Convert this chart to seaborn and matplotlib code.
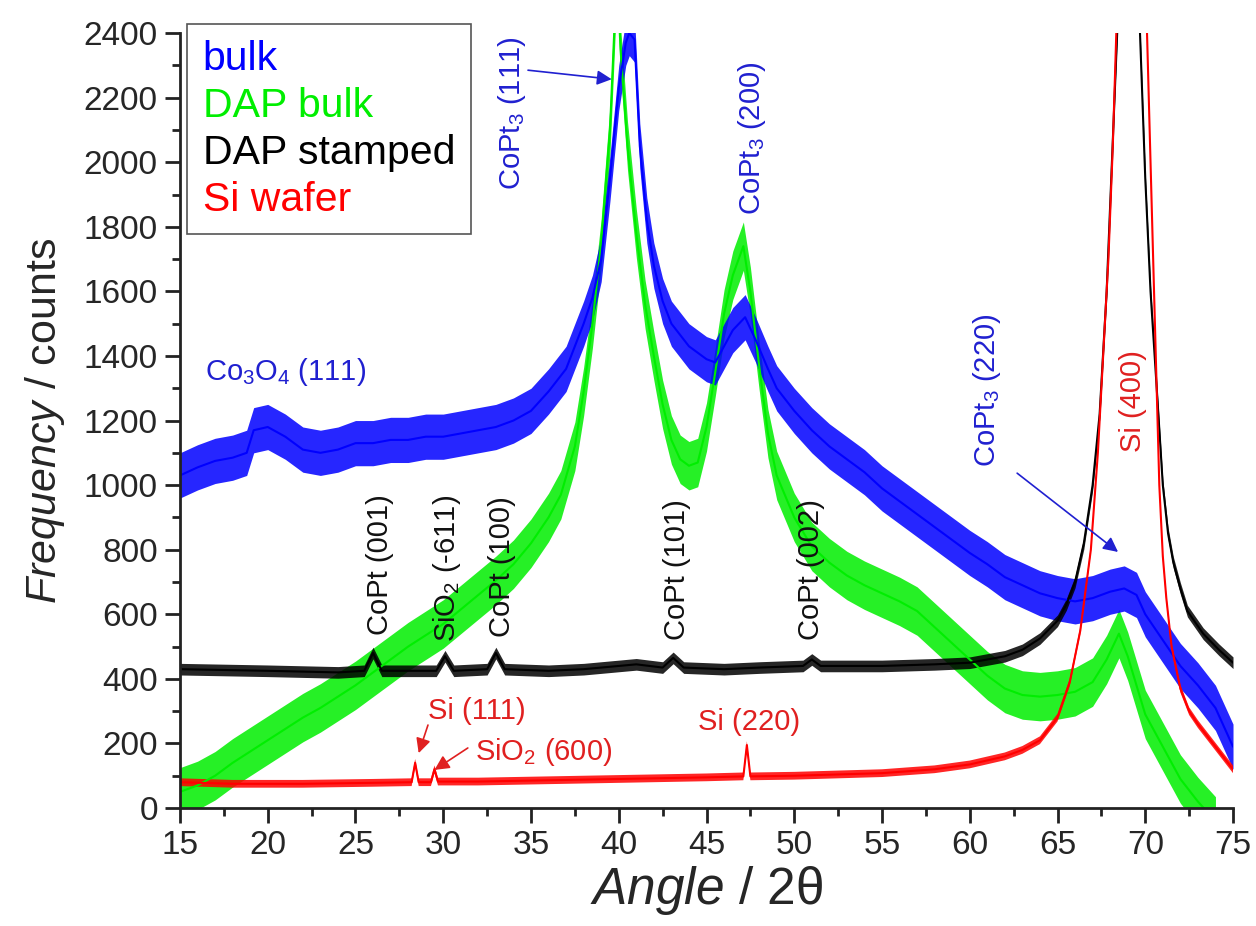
import numpy as np
import seaborn as sns
import matplotlib.pyplot as plt
from matplotlib.ticker import MultipleLocator

sns.set_theme(style="ticks")
plt.rcParams['font.family'] = ['Liberation Sans', 'DejaVu Sans']
plt.rcParams['mathtext.fontset'] = 'custom'
plt.rcParams['mathtext.rm'] = 'Liberation Sans'
plt.rcParams['mathtext.it'] = 'Liberation Sans:italic'

# bulk (blue)
bulk_angle = [15.0, 16.0, 17.0, 18.0, 18.8, 19.2, 20.0, 21.0, 22.0, 23.0, 24.0, 25.0, 26.0,
              27.0, 28.0, 29.0, 30.0, 31.0, 32.0, 33.0, 34.0, 35.0, 36.0, 37.0, 38.0, 38.5,
              39.0, 39.5, 40.0, 40.4, 40.6, 40.9, 41.2, 41.6, 42.0, 42.5, 43.0, 44.0, 45.0,
              45.5, 46.0, 46.5, 47.2, 47.8, 48.5, 49.0, 50.0, 51.0, 52.0, 53.0, 54.0, 55.0,
              56.0, 57.0, 58.0, 59.0, 60.0, 61.0, 62.0, 63.0, 64.0, 65.0, 66.0, 67.0, 68.0,
              68.8, 69.5, 70.0, 71.0, 72.0, 73.0, 74.0, 75.0]
bulk_counts = [1030, 1055, 1075, 1085, 1100, 1170, 1180, 1150, 1110, 1100, 1110, 1130, 1130,
               1140, 1140, 1150, 1150, 1160, 1170, 1180, 1200, 1230, 1290, 1360, 1500, 1580,
               1700, 1950, 2230, 2370, 2400, 2380, 2050, 1820, 1680, 1570, 1500, 1430, 1390,
               1380, 1430, 1480, 1520, 1450, 1360, 1300, 1230, 1170, 1120, 1080, 1040, 990,
               950, 910, 870, 830, 790, 755, 715, 690, 665, 650, 640, 650, 670,
               680, 660, 600, 520, 440, 380, 310, 190]

# DAP bulk (green)
dap_angle = [15.0, 16.0, 17.0, 18.0, 19.0, 20.0, 21.0, 22.0, 23.0, 24.0, 25.0, 26.0, 27.0,
             28.0, 29.0, 30.0, 31.0, 32.0, 33.0, 34.0, 35.0, 36.0, 36.7, 37.5, 38.0, 38.5,
             39.0, 39.5, 39.9, 40.1, 40.5, 41.0, 41.5, 42.0, 42.5, 43.0, 43.5, 44.0, 44.5,
             45.0, 45.5, 46.0, 46.5, 47.1, 47.5, 48.0, 48.5, 49.0, 50.0, 51.0, 52.0, 53.0,
             54.0, 55.0, 56.0, 57.0, 58.0, 59.0, 60.0, 61.0, 62.0, 63.0, 64.0, 65.0, 66.0,
             67.0, 67.8, 68.5, 69.0, 69.5, 70.0, 71.0, 72.0, 73.0, 74.0]
dap_counts = [50, 70, 100, 140, 175, 210, 245, 280, 310, 345, 380, 420, 460,
              500, 535, 570, 615, 660, 705, 755, 820, 900, 970, 1120, 1290, 1500,
              1750, 2100, 2600, 2350, 2050, 1780, 1560, 1400, 1250, 1140, 1080, 1060, 1070,
              1180, 1350, 1530, 1650, 1740, 1600, 1370, 1160, 1030, 900, 810, 760, 720,
              690, 665, 640, 610, 560, 510, 460, 410, 370, 350, 345, 350, 360,
              390, 460, 540, 470, 380, 290, 190, 90, 20, -40]

# DAP stamped (black)
stamped_angle = [15.0, 20.0, 24.0, 25.5, 26.0, 26.5, 29.6, 30.1, 30.6, 32.5, 33.0, 33.5,
                 36.0, 38.0, 40.0, 41.0, 42.5, 43.1, 43.7, 46.0, 48.0, 50.5, 51.0, 51.5,
                 55.0, 58.0, 60.0, 62.0, 63.0, 64.0, 65.0, 65.5, 66.0, 66.5, 67.0, 67.4,
                 67.8, 68.1, 68.4, 69.0, 69.7, 70.0, 70.3, 70.7, 71.0, 71.3, 71.6, 72.0,
                 72.4, 73.3, 74.2, 75.0]
stamped_counts = [430, 425, 420, 425, 480, 425, 425, 470, 425, 430, 480, 430,
                  425, 430, 440, 445, 435, 465, 435, 430, 435, 440, 460, 440,
                  440, 445, 450, 470, 490, 525, 580, 630, 700, 820, 1000, 1220,
                  1600, 2000, 2400, 3200, 2400, 1950, 1600, 1260, 1000, 850, 760, 680,
                  610, 540, 490, 450]

# Si wafer (red)
wafer_angle = [15.0, 18.0, 22.0, 26.0, 28.2, 28.4, 28.6, 29.3, 29.5, 29.7, 32.0, 35.0,
               40.0, 45.0, 47.1, 47.3, 47.5, 50.0, 55.0, 58.0, 60.0, 62.0, 63.0, 64.0,
               65.0, 65.7, 66.3, 66.9, 67.3, 67.6, 67.9, 68.15, 68.35, 69.2, 70.1, 70.3,
               70.45, 70.65, 70.8, 71.0, 71.2, 71.5, 72.0, 72.5, 73.0, 74.0, 75.0]
wafer_counts = [80, 75, 75, 78, 80, 140, 80, 80, 120, 82, 82, 85,
                90, 95, 98, 195, 98, 100, 108, 120, 135, 160, 180, 210,
                280, 390, 550, 800, 1100, 1400, 1700, 2050, 2400, 4000, 2400, 2000,
                1700, 1300, 1000, 780, 650, 500, 370, 300, 260, 190, 120]

# half width of the noise band of each scan (counts)
bulk_noise = 70
dap_noise = 75
stamped_noise = 18
wafer_noise = 12

fig = plt.figure(figsize=(12.56, 9.26), dpi=100)
ax = fig.add_axes([0.1433, 0.1274, 0.8384, 0.8369])

series = [
    ("DAP bulk", dap_angle, dap_counts, dap_noise, "#00ee00"),
    ("bulk", bulk_angle, bulk_counts, bulk_noise, "#0000ff"),
    ("DAP stamped", stamped_angle, stamped_counts, stamped_noise, "#000000"),
    ("Si wafer", wafer_angle, wafer_counts, wafer_noise, "#ff0000"),
]
for name, x, y, noise, color in series:
    y = np.array(y, dtype=float)
    ax.fill_between(x, y - noise, y + noise, color=color, lw=0, alpha=0.85)
    sns.lineplot(x=x, y=y, color=color, lw=1.5, ax=ax, label=name,
                 estimator=None, sort=False)

ax.set_xlim(15, 75)
ax.set_ylim(0, 2400)
ax.xaxis.set_major_locator(MultipleLocator(5))
ax.xaxis.set_minor_locator(MultipleLocator(2.5))
ax.yaxis.set_major_locator(MultipleLocator(200))
ax.yaxis.set_minor_locator(MultipleLocator(100))
ax.tick_params(which='major', length=11, width=2, labelsize=24, pad=5, color='#222222')
ax.tick_params(which='minor', length=6, width=2, color='#222222')
sns.despine(ax=ax)
for s in ['left', 'bottom']:
    ax.spines[s].set_linewidth(2)
    ax.spines[s].set_color('#222222')

ax.set_xlabel(r"$\it{Angle}$ / 2θ", fontsize=37, labelpad=2)
ax.set_ylabel(r"$\it{Frequency}$ / counts", fontsize=31, labelpad=12)

# legend: coloured text only
handles, labels = ax.get_legend_handles_labels()
order = ["bulk", "DAP bulk", "DAP stamped", "Si wafer"]
hl = dict(zip(labels, handles))
leg = ax.legend([hl[k] for k in order], order, loc='upper left',
                bbox_to_anchor=(0.0066, 1.0116), borderaxespad=0,
                handlelength=0, handletextpad=0, labelcolor='linecolor',
                fontsize=29.5, labelspacing=0.22, fancybox=False,
                edgecolor='#555555', framealpha=1, borderpad=0.38)
leg.get_frame().set_linewidth(1.2)
for h in leg.legend_handles:
    h.set_visible(False)

blue = '#2020d0'
black = '#111111'
red = '#e02020'
fs = 21
# peak labels
ax.text(33.9, 1914, r"CoPt$_3$ (111)", color=blue, rotation=90, ha='center', va='bottom', fontsize=fs)
ax.text(47.6, 1836, r"CoPt$_3$ (200)", color=blue, rotation=90, ha='center', va='bottom', fontsize=fs)
ax.text(61.0, 1056, r"CoPt$_3$ (220)", color=blue, rotation=90, ha='center', va='bottom', fontsize=fs)
ax.text(16.4, 1350, r"Co$_3$O$_4$ (111)", color=blue, ha='left', va='center', fontsize=fs)
ax.text(69.3, 1103, "Si (400)", color=red, rotation=90, ha='center', va='bottom', fontsize=fs)
ax.text(26.4, 536, "CoPt (001)", color=black, rotation=90, ha='center', va='bottom', fontsize=fs)
ax.text(30.2, 514, r"SiO$_2$ (-611)", color=black, rotation=90, ha='center', va='bottom', fontsize=fs)
ax.text(33.35, 530, "CoPt (100)", color=black, rotation=90, ha='center', va='bottom', fontsize=fs)
ax.text(43.3, 520, "CoPt (101)", color=black, rotation=90, ha='center', va='bottom', fontsize=fs)
ax.text(50.95, 520, "CoPt (002)", color=black, rotation=90, ha='center', va='bottom', fontsize=fs)
ax.text(29.13, 300, "Si (111)", color=red, ha='left', va='center', fontsize=fs)
ax.text(31.8, 173, r"SiO$_2$ (600)", color=red, ha='left', va='center', fontsize=fs)
ax.text(44.5, 266, "Si (220)", color=red, ha='left', va='center', fontsize=fs)

# arrows
arrow = dict(arrowstyle='-|>', lw=1.2, mutation_scale=22, shrinkA=0, shrinkB=0)
ax.annotate("", xy=(39.6, 2257), xytext=(34.83, 2285), arrowprops=dict(arrow, color=blue))
ax.annotate("", xy=(68.45, 793), xytext=(62.7, 1037), arrowprops=dict(arrow, color=blue))
ax.annotate("", xy=(28.6, 170), xytext=(29.13, 257), arrowprops=dict(arrow, color=red))
ax.annotate("", xy=(29.5, 118), xytext=(31.4, 186), arrowprops=dict(arrow, color=red))

fig.savefig("out.png", dpi=100)
